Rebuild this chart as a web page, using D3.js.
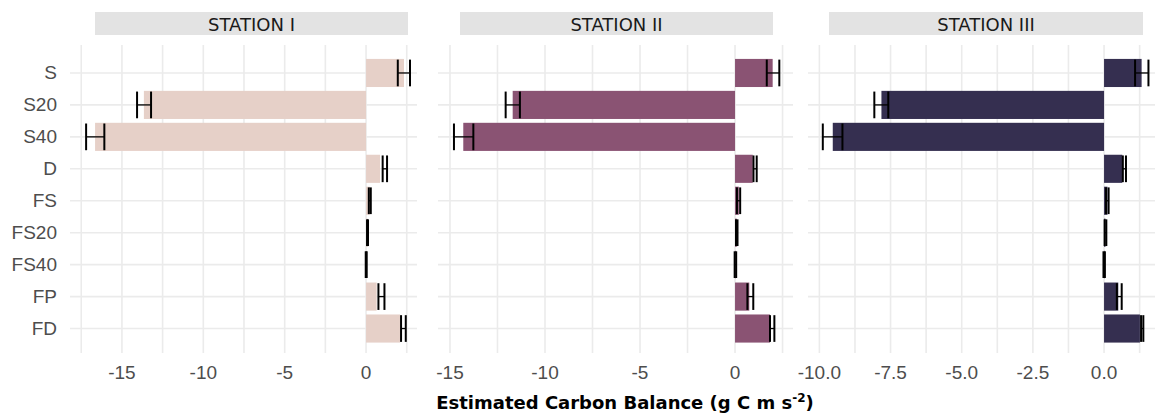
<!DOCTYPE html>
<html>
<head>
<meta charset="utf-8">
<script src="https://cdn.jsdelivr.net/npm/d3@7/dist/d3.min.js"></script>
<style>
  body { margin: 0; background: #fff; }
  svg { display: block; }
</style>
</head>
<body>
<svg id="chart" width="1157" height="417"></svg>
<script>
// categories, top to bottom
const cats = ["S", "S20", "S40", "D", "FS", "FS20", "FS40", "FP", "FD"];
const stations = ["STATION I", "STATION II", "STATION III"];
const colors = ["#e6d0c8", "#8a5373", "#352f50"];

// bar values
const meanI   = [2.33, -13.65, -16.65, 0.86, 0.23, 0.09, 0.01, 0.65, 2.09];
const meanII  = [1.98, -11.70, -14.30, 0.93, 0.20, 0.09, 0.02, 0.75, 1.84];
const meanIII = [1.32, -7.82, -9.53, 0.64, 0.12, 0.05, 0.01, 0.50, 1.26];

// error bar ends
const loI   = [1.95, -14.07, -17.20, 1.02, 0.17, 0.06, -0.02, 0.76, 2.15];
const hiI   = [2.70, -13.21, -16.08, 1.29, 0.29, 0.12, 0.04, 1.13, 2.44];
const loII  = [1.67, -12.07, -14.79, 0.97, 0.10, 0.05, -0.02, 0.65, 1.84];
const hiII  = [2.33, -11.32, -13.77, 1.14, 0.27, 0.13, 0.06, 0.96, 2.07];
const loIII = [1.09, -8.07, -9.88, 0.66, 0.07, 0.02, -0.02, 0.45, 1.30];
const hiIII = [1.56, -7.58, -9.19, 0.77, 0.16, 0.08, 0.03, 0.62, 1.38];

// axis ticks
const majorI   = [-15, -10, -5, 0];
const minorI   = [-17.5, -12.5, -7.5, -2.5, 2.5];
const majorII  = [-15, -10, -5, 0];
const minorII  = [-12.5, -7.5, -2.5, 2.5];
const majorIII = [-10, -7.5, -5, -2.5, 0];
const minorIII = [-8.75, -6.25, -3.75, -1.25, 1.25];

// plain hyphen for negatives, like the original
const loc = d3.formatLocale({decimal: ".", thousands: ",", grouping: [3], currency: ["", ""], minus: "-"});

const panels = [
  {mean: meanI, lo: loI, hi: hiI, major: majorI, minor: minorI, dom: [-18.19, 3.13], px: [70, 417], strip: [95, 408], fmt: loc.format("d")},
  {mean: meanII, lo: loII, hi: hiII, major: majorII, minor: minorII, dom: [-15.63, 3.05], px: [438, 793], strip: [460, 773], fmt: loc.format("d")},
  {mean: meanIII, lo: loIII, hi: hiIII, major: majorIII, minor: minorIII, dom: [-10.40, 1.79], px: [808, 1155], strip: [829, 1143], fmt: loc.format(".1f")}
];

const svg = d3.select("#chart");
const panelTop = 45, panelBottom = 353;

const y = d3.scaleBand().domain(cats).range([57, 344.5]).paddingInner(0.12).paddingOuter(0.06);

// y axis labels
svg.append("g").selectAll("text").data(cats).enter().append("text")
  .attr("x", 57).attr("y", d => y(d) + y.bandwidth() / 2)
  .attr("text-anchor", "end").attr("dominant-baseline", "central")
  .style("font-family", "'Liberation Sans', Arial, sans-serif").style("font-size", "19px")
  .style("fill", "#4d4d4d").text(d => d);

panels.forEach(function (p, k) {
  const x = d3.scaleLinear().domain(p.dom).range(p.px);
  const g = svg.append("g");

  // strip
  g.append("rect").attr("x", p.strip[0]).attr("y", 12).attr("width", p.strip[1] - p.strip[0]).attr("height", 23)
    .style("fill", "#e3e3e3");
  g.append("text").attr("x", (p.strip[0] + p.strip[1]) / 2).attr("y", 24).attr("text-anchor", "middle")
    .attr("dominant-baseline", "central")
    .style("font-family", "'DejaVu Sans', sans-serif").style("font-size", "18px").style("fill", "#1a1a1a")
    .text(stations[k]);

  // grid
  g.selectAll(".hg").data(cats).enter().append("line")
    .attr("x1", p.px[0]).attr("x2", p.px[1])
    .attr("y1", d => y(d) + y.bandwidth() / 2).attr("y2", d => y(d) + y.bandwidth() / 2)
    .style("stroke", "#ebebeb").style("stroke-width", 1.6);
  g.selectAll(".vg").data(p.major.concat(p.minor)).enter().append("line")
    .attr("x1", d => x(d)).attr("x2", d => x(d)).attr("y1", panelTop).attr("y2", panelBottom)
    .style("stroke", "#ebebeb").style("stroke-width", 1.6);

  // bars
  g.selectAll(".bar").data(cats).enter().append("rect")
    .attr("x", (d, i) => Math.min(x(0), x(p.mean[i])))
    .attr("width", (d, i) => Math.abs(x(p.mean[i]) - x(0)))
    .attr("y", d => y(d)).attr("height", y.bandwidth())
    .style("fill", colors[k]);

  // error bars
  const eh = y.bandwidth() * 0.95;
  cats.forEach(function (c, i) {
    const cy = y(c) + y.bandwidth() / 2;
    g.append("line").attr("x1", x(p.lo[i])).attr("x2", x(p.hi[i])).attr("y1", cy).attr("y2", cy)
      .style("stroke", "#000").style("stroke-width", 1.3);
    [p.lo[i], p.hi[i]].forEach(function (v) {
      g.append("line").attr("x1", x(v)).attr("x2", x(v)).attr("y1", cy - eh / 2).attr("y2", cy + eh / 2)
        .style("stroke", "#000").style("stroke-width", 2);
    });
  });

  // tick labels
  g.selectAll(".tl").data(p.major).enter().append("text")
    .attr("x", d => x(d)).attr("y", 372).attr("text-anchor", "middle").attr("dominant-baseline", "central")
    .style("font-family", "'Liberation Sans', Arial, sans-serif").style("font-size", "19px")
    .style("fill", "#4d4d4d").text(d => p.fmt(d));
});

// x title
const t = svg.append("text").attr("x", 625).attr("y", 409).attr("text-anchor", "middle")
  .style("font-family", "'DejaVu Sans', sans-serif").style("font-size", "18px").style("font-weight", "bold")
  .style("fill", "#000");
t.append("tspan").text("Estimated Carbon Balance (g C m s");
t.append("tspan").attr("dy", -7).style("font-size", "12px").text("-2");
t.append("tspan").attr("dy", 7).text(")");
</script>
</body>
</html>
